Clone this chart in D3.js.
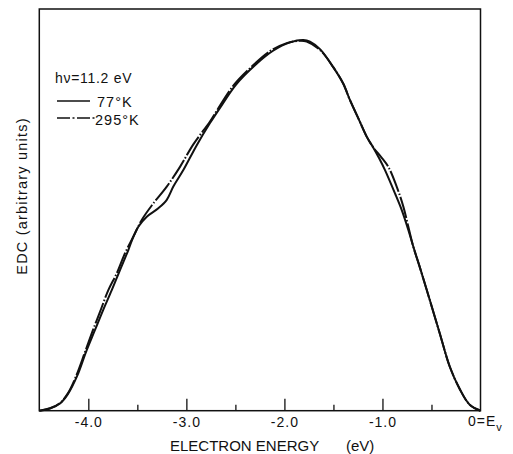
<!DOCTYPE html>
<html>
<head>
<meta charset="utf-8">
<script src="https://cdn.jsdelivr.net/npm/d3@7"></script>
<style>
  body { margin: 0; background: #fff; }
  svg { display: block; }
  text { font-family: "Liberation Sans", Arial, sans-serif; fill: #111; }
</style>
</head>
<body>
<svg id="chart" width="513" height="454"></svg>
<script>
// electron energy (eV) and EDC (arbitrary units, 0..100 = full frame height)
const energy77 = [-4.50, -4.391, -4.289, -4.207, -4.115, -4.024, -3.932, -3.850, -3.761, -3.677,
  -3.592, -3.541, -3.490, -3.404, -3.286, -3.200, -3.133, -3.031, -2.894, -2.759, -2.657,
  -2.493, -2.300, -2.116, -1.943, -1.807, -1.739, -1.637, -1.504, -1.402, -1.331, -1.239,
  -1.158, -1.096, -1.035, -0.974, -0.872, -0.804, -0.736, -0.685, -0.620, -0.518, -0.416,
  -0.314, -0.212, -0.110, 0];
const edc77 = [0, 0.55, 1.8, 4.2, 8.6, 14.6, 20.1, 25.0, 30.0, 35.0,
  40.0, 43.3, 45.8, 48.3, 50.4, 52.5, 55.8, 59.9, 66.1, 71.6, 75.4,
  81.2, 86.0, 89.6, 91.7, 92.3, 91.9, 90.0, 85.6, 81.5, 77.3, 72.4,
  68.1, 65.6, 62.9, 59.9, 54.1, 50.0, 45.0, 40.8, 35.8, 27.6, 19.3,
  11.0, 5.4, 1.5, 0];

const energy295 = [-4.50, -4.391, -4.289, -4.207, -4.125, -4.034, -3.952, -3.881, -3.796, -3.710,
  -3.626, -3.541, -3.455, -3.337, -3.200, -3.065, -2.929, -2.759, -2.687, -2.521, -2.349,
  -2.147, -1.977, -1.841, -1.773, -1.637, -1.504, -1.402, -1.331, -1.239, -1.158, -1.096,
  -1.015, -0.940, -0.855, -0.787, -0.736, -0.685, -0.620, -0.518, -0.416, -0.314, -0.212,
  -0.110, 0];
const edc295 = [0, 0.6, 1.9, 4.4, 8.6, 14.6, 20.1, 24.6, 30.0, 34.2,
  39.2, 43.3, 47.5, 51.6, 55.8, 60.7, 66.3, 72.0, 74.8, 80.9, 85.3,
  89.5, 91.5, 92.1, 91.9, 89.8, 85.6, 81.5, 77.3, 72.4, 68.1, 65.6,
  63.2, 60.7, 55.8, 50.8, 45.8, 40.8, 35.8, 27.6, 19.3, 11.0, 5.4,
  1.5, 0];

const majorTicks = [-4, -3, -2, -1];
const majorLabels = ["-4.0", "-3.0", "-2.0", "-1.0"];
const minorTicks = [-3.5, -2.5, -1.5, -0.5];
const legendItems = ["77°K", "295°K"];

const svg = d3.select("#chart");
const plotL = 39.3, plotR = 480.5, plotT = 9, plotB = 410.7;

const x = d3.scaleLinear().domain([-4.5, 0]).range([plotL, plotR]);
const y = d3.scaleLinear().domain([0, 100]).range([plotB, plotT]);

const ink = "#111";

// frame
svg.append("rect")
    .attr("x", plotL).attr("y", plotT)
    .attr("width", plotR - plotL).attr("height", plotB - plotT)
    .attr("fill", "none").attr("stroke", ink).attr("stroke-width", 1.5);

// x axis, ticks pointing inward
const axisG = svg.append("g").attr("transform", "translate(0," + plotB + ")");
axisG.call(d3.axisBottom(x)
        .tickValues(majorTicks)
        .tickFormat((d, i) => majorLabels[i])
        .tickSize(-12)
        .tickPadding(6))
    .call(g => g.select(".domain").remove());
axisG.selectAll(".tick line").attr("stroke", ink).attr("stroke-width", 1.3);
axisG.selectAll(".tick text")
    .attr("font-size", 14).attr("letter-spacing", 1).attr("fill", ink)
    .style("font-family", "'Liberation Sans', Arial, sans-serif");

const minorG = svg.append("g").attr("transform", "translate(0," + plotB + ")");
minorG.call(d3.axisBottom(x).tickValues(minorTicks).tickFormat("").tickSize(-6))
    .call(g => g.select(".domain").remove());
minorG.selectAll(".tick line").attr("stroke", ink).attr("stroke-width", 1.3);

// 0=E_v label at right end
const zeroLabel = svg.append("text")
    .attr("x", 468).attr("y", 426)
    .attr("font-size", 14).attr("letter-spacing", 1);
zeroLabel.append("tspan").text("0=E");
zeroLabel.append("tspan").attr("dy", 5).attr("font-size", 11).text("v");

// axis titles
svg.append("text")
    .attr("x", 170).attr("y", 451)
    .attr("font-size", 15)
    .text("ELECTRON ENERGY");
svg.append("text")
    .attr("x", 346).attr("y", 451)
    .attr("font-size", 15)
    .text("(eV)");

svg.append("text")
    .attr("transform", "translate(27,196) rotate(-90)")
    .attr("text-anchor", "middle")
    .attr("font-size", 14.5)
    .attr("letter-spacing", 1.2)
    .text("EDC (arbitrary units)");

// curves
const line = d3.line()
    .x(d => x(d[0]))
    .y(d => y(d[1]))
    .curve(d3.curveCatmullRom.alpha(0.5));

svg.append("path")
    .datum(d3.zip(energy295, edc295))
    .attr("d", line)
    .attr("fill", "none").attr("stroke", ink).attr("stroke-width", 2)
    .attr("stroke-dasharray", "22,2,1.5,2");

svg.append("path")
    .datum(d3.zip(energy77, edc77))
    .attr("d", line)
    .attr("fill", "none").attr("stroke", ink).attr("stroke-width", 2);

// legend
const legend = svg.append("g");
legend.append("text")
    .attr("x", 55).attr("y", 83)
    .attr("font-size", 14).attr("letter-spacing", 0.7)
    .text("hν=11.2 eV");

legend.selectAll("line.key")
    .data(legendItems)
    .join("line")
    .attr("class", "key")
    .attr("x1", 57).attr("x2", (d, i) => i === 0 ? 90 : 95)
    .attr("y1", (d, i) => 101 + i * 17).attr("y2", (d, i) => 101 + i * 17)
    .attr("stroke", ink).attr("stroke-width", 1.5)
    .attr("stroke-dasharray", (d, i) => i === 0 ? null : "13,2.5,2,2.5");

legend.selectAll("text.key")
    .data(legendItems)
    .join("text")
    .attr("class", "key")
    .attr("x", (d, i) => i === 0 ? 97 : 95)
    .attr("y", (d, i) => 107 + i * 18)
    .attr("font-size", 14.5).attr("letter-spacing", 1)
    .text(d => d);
</script>
</body>
</html>
